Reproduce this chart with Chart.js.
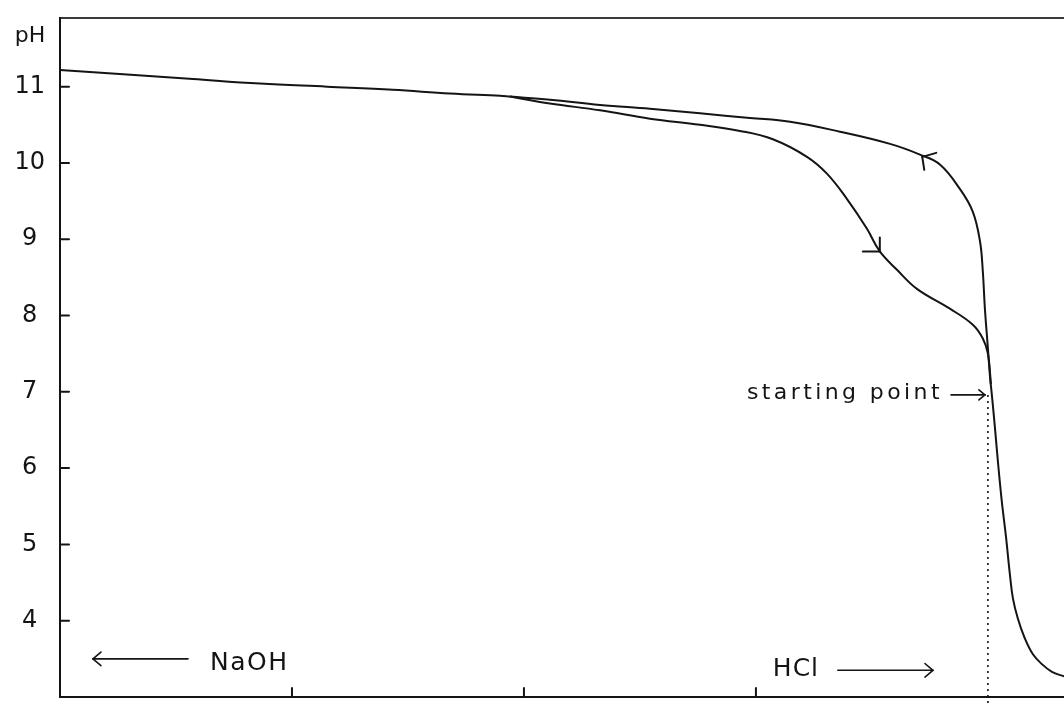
<!DOCTYPE html>
<html>
<head>
<meta charset="utf-8">
<script src="https://cdn.jsdelivr.net/npm/chart.js@4.4.1/dist/chart.umd.min.js"></script>
<style>
  html, body { margin: 0; padding: 0; background: #fff; }
  #wrap { width: 1064px; height: 709px; position: relative; }
</style>
</head>
<body>
<div id="wrap"><canvas id="c" width="1064" height="709"></canvas></div>
<script>
// Volume of titrant in arbitrary units: 0 is the starting point,
// negative values = NaOH added, positive values = HCl added.

// Upper curve: NaOH side, through the starting point and down the HCl side
const upperVol = [-4.000, -3.711, -3.427, -3.138, -2.849, -2.565, -2.319, -2.103, -2.060,
                  -1.888, -1.672, -1.457, -1.241, -1.026, -0.853, -0.638, -0.422, -0.293,
                  -0.207, -0.121, -0.065, -0.034, -0.022, -0.013, 0.000, 0.009, 0.017,
                  0.030, 0.043, 0.060, 0.078, 0.095, 0.108, 0.129, 0.159, 0.194,
                  0.233, 0.276, 0.328];
const upperPH  = [11.22, 11.16, 11.10, 11.04, 11.00, 10.96, 10.91, 10.88, 10.87,
                  10.83, 10.76, 10.71, 10.65, 10.59, 10.54, 10.41, 10.25, 10.11,
                  9.98, 9.66, 9.36, 8.97, 8.58, 8.09, 7.57, 7.20, 6.96,
                  6.54, 6.09, 5.56, 5.10, 4.60, 4.29, 4.03, 3.77, 3.56,
                  3.43, 3.33, 3.27];

// Lower curve: branches off the upper one and rejoins it near the starting point
const lowerVol = [-2.060, -1.888, -1.672, -1.457, -1.241, -1.069, -0.927, -0.780, -0.694,
                  -0.608, -0.522, -0.466, -0.392, -0.306, -0.164, -0.065, -0.022, 0.000, 0.013];
const lowerPH  = [10.87, 10.78, 10.69, 10.58, 10.50, 10.42, 10.31, 10.08, 9.86,
                  9.53, 9.14, 8.84, 8.60, 8.35, 8.09, 7.88, 7.70, 7.50, 7.10];

// Starting point marker (dotted drop line to the axis)
const startVol = [0, 0];
const startPH  = [6.96, 2.88];

// Axis ticks
const yTickValues = [4, 5, 6, 7, 8, 9, 10, 11];
const xTickValues = [-3, -2, -1];

const ink = '#141414';
const fontFace = '"DejaVu Sans", sans-serif';

const toPoints = (xs, ys) => xs.map((v, i) => ({ x: v, y: ys[i] }));

// Text labels and pointer arrows, positioned in data units
const notes = [
  { text: 'starting point', x: -0.194, y: 6.98, align: 'right', size: 22, spacing: 3.4 },
  { text: 'HCl',            x: -0.927, y: 3.36, align: 'left',  size: 25, spacing: 1 },
  { text: 'NaOH',           x: -3.353, y: 3.44, align: 'left',  size: 25, spacing: 1.5 }
];
const pointers = [
  { from: -0.159, to: -0.013, y: 6.96, head: 6 },
  { from: -0.647, to: -0.237, y: 3.35, head: 8 },
  { from: -3.448, to: -3.858, y: 3.50, head: 8 }
];
// Direction chevrons sitting on the curves (tip in data units, arms in px)
const chevrons = [
  { x: -0.466, y: 8.84, arms: [[-17, 0], [0, -14]] },
  { x: -0.283, y: 10.08, arms: [[14, -4], [2, 13]] }
];

const decor = {
  id: 'decor',
  afterDraw(chart) {
    const { ctx, scales } = chart;
    const xs = scales.x, ys = scales.y;
    const X = v => xs.getPixelForValue(v);
    const Y = v => ys.getPixelForValue(v);
    const seg = (x1, y1, x2, y2) => { ctx.beginPath(); ctx.moveTo(x1, y1); ctx.lineTo(x2, y2); ctx.stroke(); };

    ctx.save();
    ctx.strokeStyle = ink;
    ctx.fillStyle = ink;
    ctx.lineCap = 'round';

    // inward tick marks
    ctx.lineWidth = 2;
    ys.ticks.forEach(t => { const py = Y(t.value); seg(xs.left, py, xs.left + 9, py); });
    xs.ticks.forEach(t => { const px = X(t.value); seg(px, ys.bottom, px, ys.bottom - 9); });

    // axis unit label
    ctx.font = '22px ' + fontFace;
    ctx.textAlign = 'center';
    ctx.textBaseline = 'middle';
    ctx.fillText('pH', (ys.left + ys.right) / 2, Y(11.66));

    // text notes
    notes.forEach(n => {
      ctx.font = n.size + 'px ' + fontFace;
      ctx.letterSpacing = n.spacing + 'px';
      ctx.textAlign = n.align;
      ctx.textBaseline = 'middle';
      ctx.fillText(n.text, X(n.x), Y(n.y));
    });
    ctx.letterSpacing = '0px';

    // pointer arrows
    ctx.lineWidth = 1.6;
    pointers.forEach(p => {
      const x1 = X(p.from), x2 = X(p.to), py = Y(p.y);
      const dir = Math.sign(x2 - x1);
      seg(x1, py, x2, py);
      seg(x2, py, x2 - dir * p.head, py - p.head * 0.85);
      seg(x2, py, x2 - dir * p.head, py + p.head * 0.85);
    });

    // chevrons on the curves
    ctx.lineWidth = 2;
    chevrons.forEach(c => {
      const px = X(c.x), py = Y(c.y);
      c.arms.forEach(a => seg(px, py, px + a[0], py + a[1]));
    });

    ctx.restore();
  }
};

new Chart(document.getElementById('c'), {
  type: 'line',
  data: {
    datasets: [
      {
        data: toPoints(upperVol, upperPH),
        borderColor: ink, borderWidth: 2, pointRadius: 0,
        tension: 0.4, fill: false
      },
      {
        data: toPoints(lowerVol, lowerPH),
        borderColor: ink, borderWidth: 2, pointRadius: 0,
        tension: 0.4, fill: false
      },
      {
        data: toPoints(startVol, startPH),
        borderColor: ink, borderWidth: 1.6, borderDash: [2, 4], pointRadius: 0,
        tension: 0, fill: false, clip: false
      }
    ]
  },
  options: {
    responsive: false,
    animation: false,
    events: [],
    layout: { padding: 0 },
    plugins: { legend: { display: false }, tooltip: { enabled: false } },
    scales: {
      x: {
        type: 'linear',
        min: -4, max: 0.328,
        afterBuildTicks: s => { s.ticks = xTickValues.map(v => ({ value: v })); },
        afterFit: s => { s.height = 12; s.paddingLeft = 0; s.paddingRight = 0; },
        ticks: { display: false },
        grid: { display: false, drawTicks: false },
        border: { display: true, color: ink, width: 2 }
      },
      xTop: {
        type: 'linear',
        position: 'top',
        afterFit: s => { s.height = 18; s.paddingLeft = 0; s.paddingRight = 0; },
        ticks: { display: false },
        grid: { display: false, drawTicks: false },
        border: { display: true, color: '#3a3a3a', width: 2 }
      },
      y: {
        type: 'linear',
        min: 3, max: 11.9,
        afterBuildTicks: s => { s.ticks = yTickValues.map(v => ({ value: v })); },
        afterFit: s => { s.width = 60; s.paddingTop = 0; s.paddingBottom = 0; },
        ticks: {
          color: ink,
          font: { family: fontFace, size: 24 },
          crossAlign: 'center',
          padding: 15
        },
        grid: { display: false, drawTicks: false },
        border: { display: true, color: ink, width: 2 }
      }
    }
  },
  plugins: [decor]
});
</script>
</body>
</html>
